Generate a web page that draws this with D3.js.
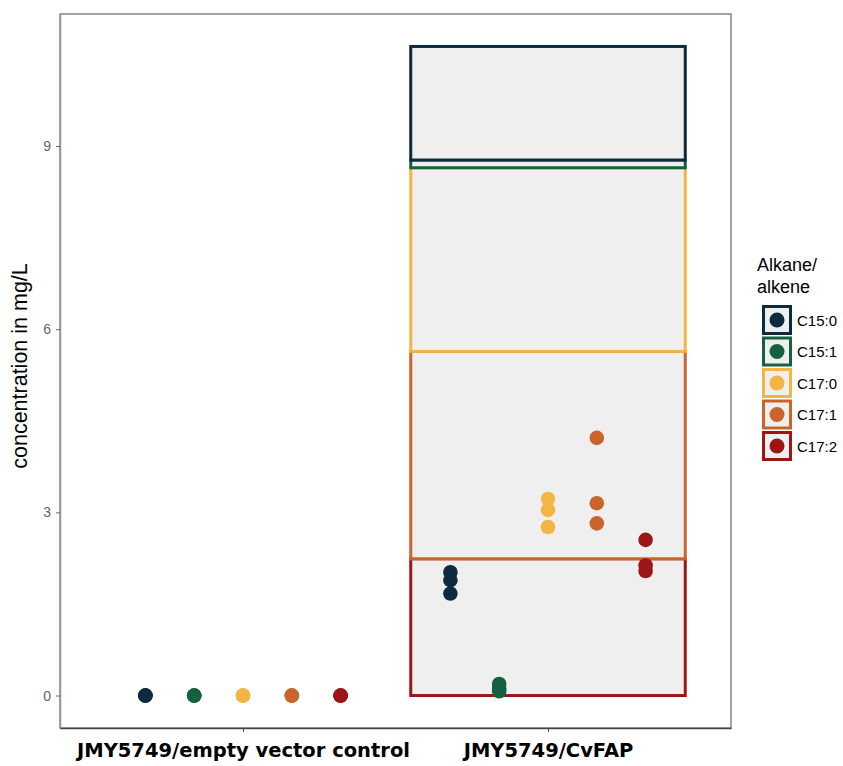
<!DOCTYPE html>
<html>
<head>
<meta charset="utf-8">
<script src="https://cdn.jsdelivr.net/npm/d3@7"></script>
<style>
  body { margin: 0; background: #fff; }
  text { font-family: "Liberation Sans", Arial, sans-serif; }
</style>
</head>
<body>
<div id="chart"></div>
<script>
// strains on the x axis
const groups = ["JMY5749/empty vector control", "JMY5749/CvFAP"];
// alkane / alkene species
const compounds = ["C15:0", "C15:1", "C17:0", "C17:1", "C17:2"];
const compoundColors = ["#0c2a40", "#14613f", "#f5b545", "#c9652b", "#9c1616"];
// replicate concentrations (mg/L), one array per compound
const controlValues = [[0, 0, 0], [0, 0, 0], [0, 0, 0], [0, 0, 0], [0, 0, 0]];
const cvfapValues = [
  [2.02, 1.89, 1.67],
  [0.19, 0.12, 0.07],
  [3.22, 3.04, 2.76],
  [4.22, 3.15, 2.82],
  [2.55, 2.13, 2.04]
];
const yTicks = [0, 3, 6, 9];

const width = 843, height = 766;
const panel = { left: 60, right: 731, top: 14, bottom: 728 };

const valuesByGroup = [controlValues, cvfapValues];

// mean per compound per group, stacked with C17:2 at the bottom
const meanRows = groups.map((g, gi) => {
  const row = { group: g, gi };
  compounds.forEach((c, ci) => { row[c] = d3.mean(valuesByGroup[gi][ci]); });
  return row;
});
const stacked = d3.stack().keys(compounds).order(d3.stackOrderReverse)(meanRows);

const points = [];
groups.forEach((g, gi) => {
  compounds.forEach((c, ci) => {
    valuesByGroup[gi][ci].forEach(v => points.push({ gi, ci, value: v }));
  });
});

const yMax = d3.max(stacked, s => d3.max(s, d => d[1]));
const pad = yMax * 0.05;

const x = d3.scaleLinear().domain([0.4, 2.6]).range([panel.left, panel.right]);
const y = d3.scaleLinear().domain([-pad, yMax + pad]).range([panel.bottom, panel.top]);
const color = d3.scaleOrdinal().domain(compounds).range(compoundColors);

const svg = d3.select("#chart").append("svg")
  .attr("width", width)
  .attr("height", height);

// stacked mean bars, drawn bottom layer first
const barW = 0.9;
const drawOrder = stacked.slice().sort((a, b) => a.index - b.index);
drawOrder.forEach(layer => {
  svg.append("g")
    .selectAll("rect")
    .data(layer.filter(d => d[1] - d[0] > 0))
    .join("rect")
    .attr("x", d => x(d.data.gi + 1 - barW / 2))
    .attr("width", d => x(barW) - x(0))
    .attr("y", d => y(d[1]))
    .attr("height", d => y(d[0]) - y(d[1]))
    .attr("fill", "#efefef")
    .attr("stroke", color(layer.key))
    .attr("stroke-width", 3);
});

// dodged replicate points
const dodge = 0.16;
svg.append("g")
  .selectAll("circle")
  .data(points)
  .join("circle")
  .attr("cx", d => x(d.gi + 1 + (d.ci - 2) * dodge))
  .attr("cy", d => y(d.value))
  .attr("r", 7.3)
  .attr("fill", d => color(compounds[d.ci]));

// panel border
svg.append("rect")
  .attr("x", panel.left)
  .attr("y", panel.top)
  .attr("width", panel.right - panel.left)
  .attr("height", panel.bottom - panel.top)
  .attr("fill", "none")
  .attr("stroke", "#666")
  .attr("stroke-width", 1.2);

// y axis
const yAxis = svg.append("g")
  .attr("transform", `translate(${panel.left},0)`)
  .call(d3.axisLeft(y).tickValues(yTicks).tickSize(4).tickSizeOuter(0).tickPadding(5));
yAxis.select(".domain").attr("stroke", "#999").attr("stroke-width", 1.5);
yAxis.selectAll(".tick line").attr("stroke", "#666");
yAxis.selectAll(".tick text")
  .attr("fill", "#666")
  .style("font-family", "Liberation Sans, Arial, sans-serif")
  .style("font-size", "14px");

// x axis
const xAxis = svg.append("g")
  .attr("transform", `translate(0,${panel.bottom})`)
  .call(d3.axisBottom(x).tickValues([1, 2]).tickFormat(d => groups[d - 1])
    .tickSize(4).tickSizeOuter(0).tickPadding(11));
xAxis.select(".domain").attr("stroke", "#444").attr("stroke-width", 1.5);
xAxis.selectAll(".tick line").attr("stroke", "#444");
xAxis.selectAll(".tick text")
  .attr("fill", "#000")
  .style("font-family", "DejaVu Sans, sans-serif")
  .style("font-weight", "bold")
  .style("font-size", "19.5px");

// y axis title
svg.append("text")
  .attr("transform", `translate(27,366) rotate(-90)`)
  .attr("text-anchor", "middle")
  .style("font-size", "21.5px")
  .attr("fill", "#000")
  .text("concentration in mg/L");

// legend
const legend = svg.append("g").attr("transform", "translate(757,0)");
legend.append("text")
  .attr("y", 271)
  .style("font-size", "18px")
  .text("Alkane/");
legend.append("text")
  .attr("y", 293)
  .style("font-size", "18px")
  .text("alkene");

const keys = legend.selectAll("g.key")
  .data(compounds)
  .join("g")
  .attr("class", "key")
  .attr("transform", (d, i) => `translate(5,${305 + i * 31.5})`);
keys.append("rect")
  .attr("x", 1.5).attr("y", 1.5)
  .attr("width", 27).attr("height", 27)
  .attr("fill", "#efefef")
  .attr("stroke", d => color(d))
  .attr("stroke-width", 3);
keys.append("circle")
  .attr("cx", 15).attr("cy", 15)
  .attr("r", 7.5)
  .attr("fill", d => color(d));
keys.append("text")
  .attr("x", 35).attr("y", 20.5)
  .style("font-size", "15px")
  .text(d => d);
</script>
</body>
</html>
